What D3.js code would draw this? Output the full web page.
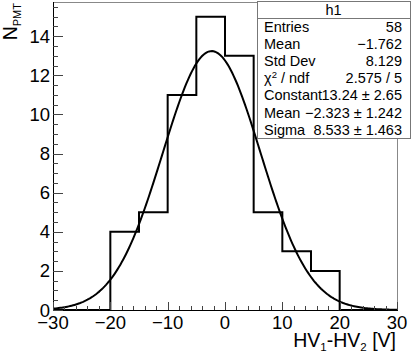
<!DOCTYPE html>
<html><head><meta charset="utf-8">
<script src="https://cdn.jsdelivr.net/npm/d3@7"></script>
<style>
html,body{margin:0;padding:0;background:#fff;}
svg{display:block;font-family:"Liberation Sans",Arial,Helvetica,sans-serif;}
</style></head>
<body>
<script>
// ---- data ----
const binEdges = [-30,-25,-20,-15,-10,-5,0,5,10,15,20,25,30];
const counts   = [0,0,4,5,11,15,13,5,3,2,0,0];
const fitParams = [13.24, -2.323, 8.533]; // Constant, Mean, Sigma
const xTickValues = [-30,-20,-10,0,10,20,30];
const xTickLabels = ["\u221230","\u221220","\u221210","0","10","20","30"];
const yTickValues = [0,2,4,6,8,10,12,14];
const yTickLabels = ["0","2","4","6","8","10","12","14"];
const statLabels = ["Entries","Mean","Std Dev","CHI","Constant","Mean","Sigma"];
const statValues = ["58","\u22121.762","8.129","2.575 / 5","13.24 \u00b1 2.65","\u22122.323 \u00b1 1.242","8.533 \u00b1 1.463"];
const histName = "h1";

const W = 412, H = 357;
const fx0 = 53, fx1 = 397, fy0 = 2, fy1 = 310;
const svg = d3.select("body").append("svg").attr("width", W).attr("height", H);
const x = d3.scaleLinear().domain([-30,30]).range([fx0,fx1]);
const y = d3.scaleLinear().domain([0,15.75]).range([fy1,fy0]);

// frame
svg.append("rect").attr("x",fx0+0.5).attr("y",fy0+0.5).attr("width",fx1-fx0).attr("height",fy1-fy0)
  .attr("fill","none").attr("stroke","#888").attr("stroke-width",1);

// histogram step path
const pts = [];
pts.push([x(binEdges[0]), y(0)]);
counts.forEach((c,i)=>{ pts.push([x(binEdges[i]), y(c)]); pts.push([x(binEdges[i+1]), y(c)]); });
pts.push([x(binEdges[binEdges.length-1]), y(0)]);
svg.append("path").attr("d", d3.line()(pts)).attr("fill","none").attr("stroke","#000").attr("stroke-width",2);

// fit curve
const gx = d3.range(-30, 30.001, 0.25);
const gauss = v => fitParams[0]*Math.exp(-0.5*Math.pow((v-fitParams[1])/fitParams[2],2));
svg.append("path").attr("d", d3.line().curve(d3.curveLinear)(gx.map(v=>[x(v), y(gauss(v))])))
  .attr("fill","none").attr("stroke","#000").attr("stroke-width",2);

// axes lines
svg.append("line").attr("x1",fx0+0.5).attr("x2",fx0+0.5).attr("y1",fy0).attr("y2",fy1+1).attr("stroke","#000");
svg.append("line").attr("x1",fx0).attr("x2",fx1+1).attr("y1",fy1+0.5).attr("y2",fy1+0.5).attr("stroke","#000");

// x ticks (inward)
const xMinor = d3.range(-30,30.001,2);
xMinor.forEach(v=>{
  const major = xTickValues.includes(v);
  svg.append("line").attr("x1",Math.round(x(v))+0.5).attr("x2",Math.round(x(v))+0.5)
    .attr("y1",fy1).attr("y2",fy1-(major?8:4)).attr("stroke","#444");
});
// y ticks
const yMinor = d3.range(0,15.75,0.5);
yMinor.forEach(v=>{
  const major = yTickValues.includes(v);
  svg.append("line").attr("y1",Math.round(y(v))+0.5).attr("y2",Math.round(y(v))+0.5)
    .attr("x1",fx0).attr("x2",fx0+(major?10:5)).attr("stroke","#444");
});

// tick labels
svg.selectAll(".xl").data(xTickValues).enter().append("text")
  .attr("x",d=>x(d)).attr("y",fy1+19).attr("text-anchor","middle")
  .attr("font-size",18.5).text((d,i)=>xTickLabels[i]);
svg.selectAll(".yl").data(yTickValues).enter().append("text")
  .attr("x",fx0-3).attr("y",d=>y(d)+6.5).attr("text-anchor","end")
  .attr("font-size",18.5).text((d,i)=>yTickLabels[i]);

// x title
const xt = svg.append("text").attr("x",fx1-1).attr("y",347).attr("text-anchor","end").attr("font-size",19.5);
xt.append("tspan").text("HV");
xt.append("tspan").attr("font-size",11.5).attr("dy",4).text("1");
xt.append("tspan").attr("dy",-4).text("-HV");
xt.append("tspan").attr("font-size",11.5).attr("dy",4).text("2");
xt.append("tspan").attr("dy",-4).text(" [V]");

// y title
const yt = svg.append("text").attr("transform","translate(17,"+(fy0+1)+") rotate(-90)")
  .attr("text-anchor","end").attr("font-size",19.5);
yt.append("tspan").text("N");
yt.append("tspan").attr("font-size",11).attr("dy",4).text("PMT");

// stats box
const bx0 = 257, bx1 = 410, by0 = 1, by1 = 138, hdr = 17;
svg.append("rect").attr("x",bx0+0.5).attr("y",by0+0.5).attr("width",bx1-bx0).attr("height",by1-by0)
  .attr("fill","#fff").attr("stroke","#777");
svg.append("line").attr("x1",bx0).attr("x2",bx1).attr("y1",by0+hdr+0.5).attr("y2",by0+hdr+0.5).attr("stroke","#777");
svg.append("text").attr("x",(bx0+bx1)/2).attr("y",by0+13.5).attr("text-anchor","middle").attr("font-size",14.5).text(histName);
const rowH = (by1-by0-hdr)/statLabels.length;
statLabels.forEach((lab,i)=>{
  const cy = by0+hdr+rowH*(i+0.5)+5.3;
  const t = svg.append("text").attr("x",bx0+7).attr("y",cy).attr("font-size",14.5);
  if (lab==="CHI") {
    t.append("tspan").text("\u03c7");
    t.append("tspan").attr("font-size",9.5).attr("dy",-5.5).text("2");
    t.append("tspan").attr("dy",5.5).text(" / ndf");
  } else t.text(lab);
  svg.append("text").attr("x",bx1-8).attr("y",cy).attr("text-anchor","end").attr("font-size",14.5).text(statValues[i]);
});
</script>
</body></html>
